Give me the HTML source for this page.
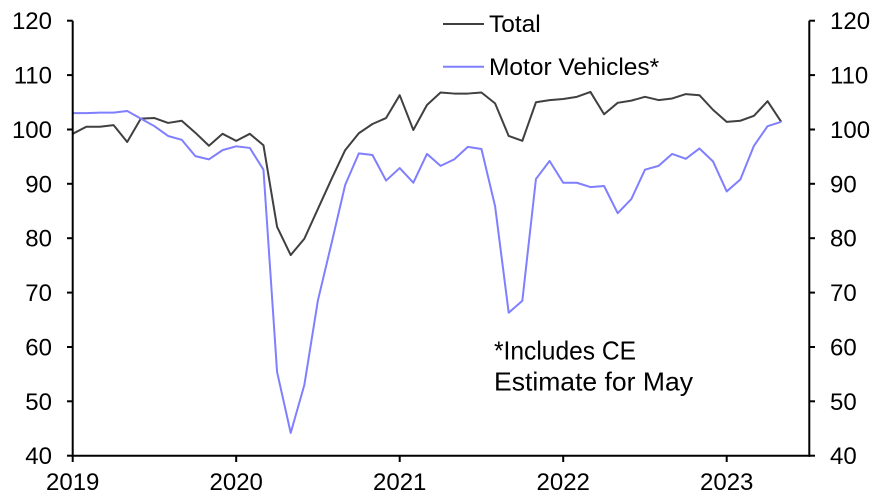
<!DOCTYPE html>
<html>
<head>
<meta charset="utf-8">
<style>
  html,body{margin:0;padding:0;background:#fff;}
  svg{display:block;}
  text{font-family:"Liberation Sans",Arial,sans-serif;fill:#000;}
</style>
</head>
<body>
<svg width="886" height="498" viewBox="0 0 886 498" xmlns="http://www.w3.org/2000/svg">
  <rect width="886" height="498" fill="#fff"/>

  <!-- Series -->
  <g transform="matrix(13.625 0 0 -5.4375 72.7 673.2)" fill="none" stroke-linejoin="round">
    <polyline vector-effect="non-scaling-stroke" stroke="#404040" stroke-width="2"
      points="0,99.2 1,100.5 2,100.5 3,100.8 4,97.7 5,102.0 6,102.1 7,101.2 8,101.6 9,99.4 10,97.0 11,99.2 12,97.9 13,99.2 14,97.1 15,82.1 16,76.9 17,79.9 18,85.4 19,90.9 20,96.2 21,99.3 22,101.0 23,102.1 24,106.3 25,99.9 26,104.5 27,106.8 28,106.6 29,106.6 30,106.8 31,104.8 32,98.8 33,97.9 34,105.0 35,105.4 36,105.6 37,106.0 38,106.9 39,102.8 40,104.9 41,105.3 42,106.0 43,105.4 44,105.7 45,106.5 46,106.3 47,103.6 48,101.4 49,101.6 50,102.5 51,105.2 52,101.4"/>
    <polyline vector-effect="non-scaling-stroke" stroke="#7f7fff" stroke-width="2"
      points="0,103.0 1,103.0 2,103.1 3,103.1 4,103.4 5,102.0 6,100.6 7,98.8 8,98.1 9,95.1 10,94.5 11,96.2 12,96.9 13,96.6 14,92.6 15,55.4 16,44.2 17,53.0 18,68.6 19,79.1 20,89.8 21,95.6 22,95.3 23,90.6 24,92.9 25,90.2 26,95.5 27,93.3 28,94.5 29,96.8 30,96.4 31,85.9 32,66.3 33,68.5 34,90.9 35,94.2 36,90.2 37,90.2 38,89.4 39,89.6 40,84.6 41,87.2 42,92.6 43,93.3 44,95.5 45,94.6 46,96.5 47,94.1 48,88.6 49,90.8 50,97.0 51,100.6 52,101.4"/>
  </g>

  <!-- Axes -->
  <g stroke="#000" stroke-width="2" fill="none">
    <line x1="72.7" y1="20.7" x2="72.7" y2="456.7"/>
    <line x1="809.3" y1="20.7" x2="809.3" y2="456.7"/>
    <line x1="71.7" y1="455.7" x2="810.3" y2="455.7"/>
    <!-- left ticks -->
    <line x1="67" y1="20.7" x2="72.7" y2="20.7"/>
    <line x1="67" y1="75.1" x2="72.7" y2="75.1"/>
    <line x1="67" y1="129.5" x2="72.7" y2="129.5"/>
    <line x1="67" y1="183.8" x2="72.7" y2="183.8"/>
    <line x1="67" y1="238.2" x2="72.7" y2="238.2"/>
    <line x1="67" y1="292.6" x2="72.7" y2="292.6"/>
    <line x1="67" y1="347.0" x2="72.7" y2="347.0"/>
    <line x1="67" y1="401.3" x2="72.7" y2="401.3"/>
    <line x1="67" y1="455.7" x2="72.7" y2="455.7"/>
    <!-- right ticks -->
    <line x1="809.3" y1="20.7" x2="815" y2="20.7"/>
    <line x1="809.3" y1="75.1" x2="815" y2="75.1"/>
    <line x1="809.3" y1="129.5" x2="815" y2="129.5"/>
    <line x1="809.3" y1="183.8" x2="815" y2="183.8"/>
    <line x1="809.3" y1="238.2" x2="815" y2="238.2"/>
    <line x1="809.3" y1="292.6" x2="815" y2="292.6"/>
    <line x1="809.3" y1="347.0" x2="815" y2="347.0"/>
    <line x1="809.3" y1="401.3" x2="815" y2="401.3"/>
    <line x1="809.3" y1="455.7" x2="815" y2="455.7"/>
    <!-- x ticks -->
    <line x1="72.7" y1="455.7" x2="72.7" y2="462"/>
    <line x1="236.2" y1="455.7" x2="236.2" y2="462"/>
    <line x1="399.7" y1="455.7" x2="399.7" y2="462"/>
    <line x1="563.2" y1="455.7" x2="563.2" y2="462"/>
    <line x1="726.7" y1="455.7" x2="726.7" y2="462"/>
  </g>

  <!-- Left labels -->
  <g font-size="24" text-anchor="end">
    <text x="52" y="29.2">120</text>
    <text x="52" y="83.6">110</text>
    <text x="52" y="138">100</text>
    <text x="52" y="192.3">90</text>
    <text x="52" y="246.7">80</text>
    <text x="52" y="301.1">70</text>
    <text x="52" y="355.5">60</text>
    <text x="52" y="409.8">50</text>
    <text x="52" y="464.2">40</text>
  </g>
  <!-- Right labels -->
  <g font-size="24" text-anchor="start">
    <text x="830" y="29.2">120</text>
    <text x="830" y="83.6">110</text>
    <text x="830" y="138">100</text>
    <text x="830" y="192.3">90</text>
    <text x="830" y="246.7">80</text>
    <text x="830" y="301.1">70</text>
    <text x="830" y="355.5">60</text>
    <text x="830" y="409.8">50</text>
    <text x="830" y="464.2">40</text>
  </g>
  <!-- X labels -->
  <g font-size="24" text-anchor="middle">
    <text x="72.7" y="490">2019</text>
    <text x="236.2" y="490">2020</text>
    <text x="399.7" y="490">2021</text>
    <text x="563.2" y="490">2022</text>
    <text x="726.7" y="490">2023</text>
  </g>

  <!-- Legend -->
  <line x1="443" y1="24" x2="484" y2="24" stroke="#404040" stroke-width="2"/>
  <text x="489" y="32" font-size="24.5">Total</text>
  <line x1="443" y1="66.7" x2="484" y2="66.7" stroke="#7f7fff" stroke-width="2"/>
  <text x="489" y="75" font-size="24.5">Motor Vehicles*</text>

  <!-- Annotation -->
  <text x="494" y="359.5" font-size="26" textLength="142" lengthAdjust="spacingAndGlyphs">*Includes CE</text>
  <text x="494" y="390.5" font-size="26" textLength="199" lengthAdjust="spacingAndGlyphs">Estimate for May</text>
</svg>
</body>
</html>
